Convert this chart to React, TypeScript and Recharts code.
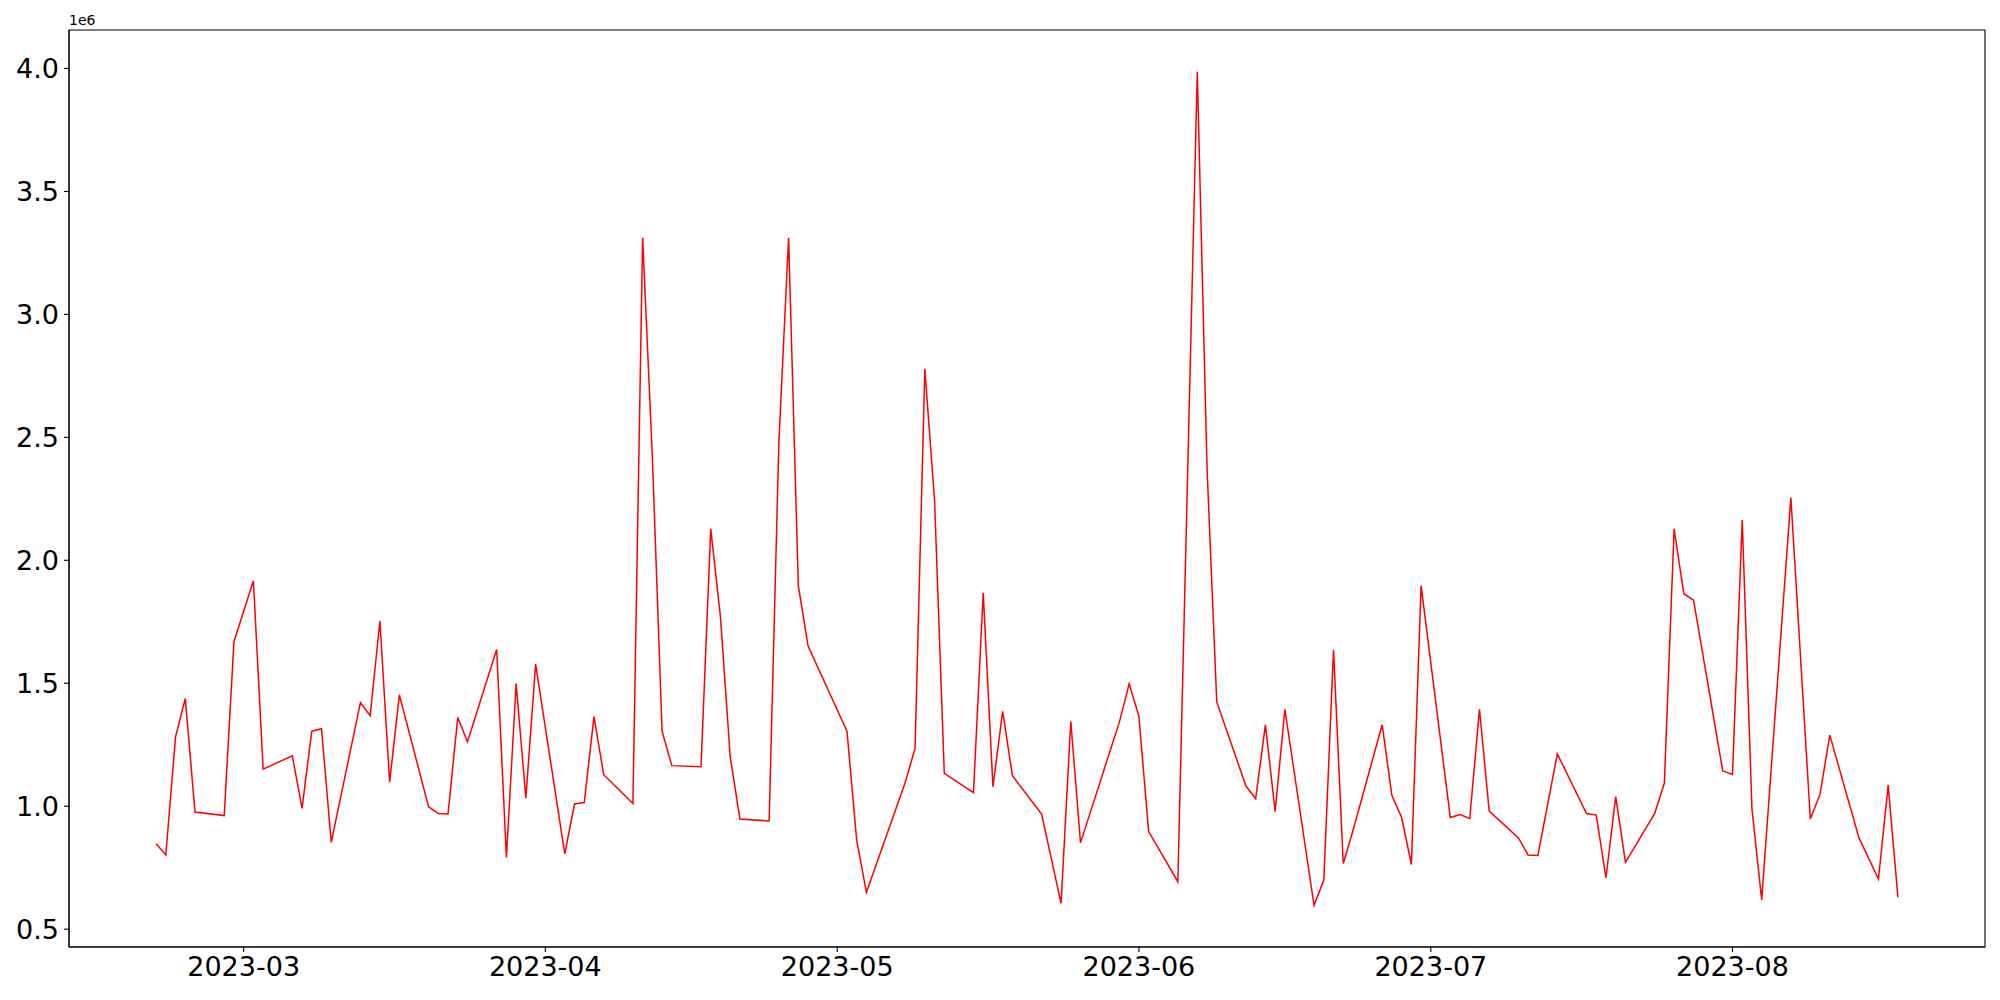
import { LineChart, Line, XAxis, YAxis, ReferenceArea } from 'recharts'

// trading days shown in the plot
const dates = [
  '2023-02-20', '2023-02-21', '2023-02-22', '2023-02-23', '2023-02-24', '2023-02-27', '2023-02-28',
  '2023-03-02', '2023-03-03', '2023-03-06', '2023-03-07', '2023-03-08', '2023-03-09', '2023-03-10',
  '2023-03-13', '2023-03-14', '2023-03-15', '2023-03-16', '2023-03-17', '2023-03-20', '2023-03-21',
  '2023-03-22', '2023-03-23', '2023-03-24', '2023-03-27', '2023-03-28', '2023-03-29', '2023-03-30',
  '2023-03-31', '2023-04-03', '2023-04-04', '2023-04-05', '2023-04-06', '2023-04-07', '2023-04-10',
  '2023-04-11', '2023-04-12', '2023-04-13', '2023-04-14', '2023-04-17', '2023-04-18', '2023-04-19',
  '2023-04-20', '2023-04-21', '2023-04-24', '2023-04-25', '2023-04-26', '2023-04-27', '2023-04-28',
  '2023-05-02', '2023-05-03', '2023-05-04', '2023-05-08', '2023-05-09', '2023-05-10', '2023-05-11',
  '2023-05-12', '2023-05-15', '2023-05-16', '2023-05-17', '2023-05-18', '2023-05-19', '2023-05-22',
  '2023-05-24', '2023-05-25', '2023-05-26', '2023-05-30', '2023-05-31', '2023-06-01', '2023-06-02',
  '2023-06-05', '2023-06-07', '2023-06-08', '2023-06-09', '2023-06-12', '2023-06-13', '2023-06-14',
  '2023-06-15', '2023-06-16', '2023-06-19', '2023-06-20', '2023-06-21', '2023-06-22', '2023-06-23',
  '2023-06-26', '2023-06-27', '2023-06-28', '2023-06-29', '2023-06-30', '2023-07-03', '2023-07-04',
  '2023-07-05', '2023-07-06', '2023-07-07', '2023-07-10', '2023-07-11', '2023-07-12', '2023-07-14',
  '2023-07-17', '2023-07-18', '2023-07-19', '2023-07-20', '2023-07-21', '2023-07-24', '2023-07-25',
  '2023-07-26', '2023-07-27', '2023-07-28', '2023-07-31', '2023-08-01', '2023-08-02', '2023-08-03',
  '2023-08-04', '2023-08-07', '2023-08-09', '2023-08-10', '2023-08-11', '2023-08-14', '2023-08-16',
  '2023-08-17', '2023-08-18',
]

const volumes = [
  847000, 802000, 1282000, 1438000, 976000, 962000, 1669000,
  1917000, 1151000, 1205000, 991000, 1305000, 1315000, 853000,
  1422000, 1368000, 1753000, 1098000, 1453000, 998000, 970000,
  968000, 1361000, 1262000, 1637000, 792000, 1499000, 1033000,
  1578000, 806000, 1009000, 1015000, 1364000, 1128000, 1011000,
  3312000, 2420000, 1305000, 1165000, 1161000, 2128000, 1769000,
  1201000, 948000, 940000, 2480000, 3312000, 1897000, 1651000,
  1305000, 861000, 650000, 1098000, 1236000, 2779000, 2243000,
  1134000, 1055000, 1868000, 1079000, 1386000, 1124000, 968000,
  605000, 1345000, 851000, 1343000, 1498000, 1366000, 897000,
  693000, 3987000, 2376000, 1424000, 1082000, 1031000, 1331000,
  978000, 1394000, 597000, 700000, 1636000, 767000, 901000,
  1331000, 1043000, 954000, 763000, 1897000, 954000, 966000,
  950000, 1394000, 980000, 871000, 802000, 800000, 1213000,
  970000, 964000, 709000, 1039000, 772000, 970000, 1094000,
  2128000, 1864000, 1838000, 1143000, 1129000, 2164000, 990000,
  619000, 2255000, 948000, 1049000, 1289000, 871000, 704000,
  1086000, 630000,
]

const monthTicks = ['2023-03-01', '2023-04-01', '2023-05-01', '2023-06-01', '2023-07-01', '2023-08-01']
const yTicks = [500000, 1000000, 1500000, 2000000, 2500000, 3000000, 3500000, 4000000]

const toTime = (d: string) => Date.parse(d + 'T00:00:00Z')

const data = dates.map((d, i) => ({ t: toTime(d), v: volumes[i] }))

// matplotlib-style 5% margins around the data
const xMin = toTime(dates[0])
const xMax = toTime(dates[dates.length - 1])
const xPad = (xMax - xMin) * 0.05
const xDomain = [xMin - xPad, xMax + xPad]
const yMin = Math.min(...volumes)
const yMax = Math.max(...volumes)
const yPad = (yMax - yMin) * 0.05
const yDomain = [yMin - yPad, yMax + yPad]

const font = 'DejaVu Sans, sans-serif'
const tickStyle = { fill: '#000', fontSize: 27, fontFamily: font }

export default function App() {
  return (
    <div style={{ position: 'absolute', left: 0, top: 0, width: 2000, height: 1000, background: '#fff' }}>
      <div
        style={{
          position: 'absolute',
          left: 69,
          top: 12,
          fontSize: 14,
          fontFamily: font,
          color: '#000',
          lineHeight: '16px',
        }}
      >
        1e6
      </div>
      <LineChart width={2000} height={1000} data={data} margin={{ top: 30, right: 15, bottom: 0, left: 0 }}>
        <XAxis
          dataKey="t"
          type="number"
          scale="linear"
          domain={xDomain}
          allowDataOverflow
          ticks={monthTicks.map(toTime)}
          tickFormatter={(t: number) => new Date(t).toISOString().slice(0, 7)}
          tick={tickStyle}
          height={53}
          tickSize={5}
          tickMargin={5}
          axisLine={{ stroke: '#000', strokeWidth: 1.1 }}
          tickLine={{ stroke: '#000', strokeWidth: 1.1 }}
        />
        <YAxis
          type="number"
          domain={yDomain}
          allowDataOverflow
          ticks={yTicks}
          tickFormatter={(v: number) => (v / 1e6).toFixed(1)}
          tick={tickStyle}
          width={69}
          tickSize={5}
          tickMargin={5}
          axisLine={{ stroke: '#000', strokeWidth: 1.1 }}
          tickLine={{ stroke: '#000', strokeWidth: 1.1 }}
        />
        {/* frame around the plot area, like matplotlib's spines */}
        <ReferenceArea
          x1={xDomain[0]}
          x2={xDomain[1]}
          y1={yDomain[0]}
          y2={yDomain[1]}
          fill="none"
          fillOpacity={0}
          stroke="#000"
          strokeWidth={1.1}
          strokeOpacity={1}
        />
        <Line
          dataKey="v"
          type="linear"
          stroke="#ff0000"
          strokeWidth={1.5}
          dot={false}
          activeDot={false}
          isAnimationActive={false}
        />
      </LineChart>
    </div>
  )
}
